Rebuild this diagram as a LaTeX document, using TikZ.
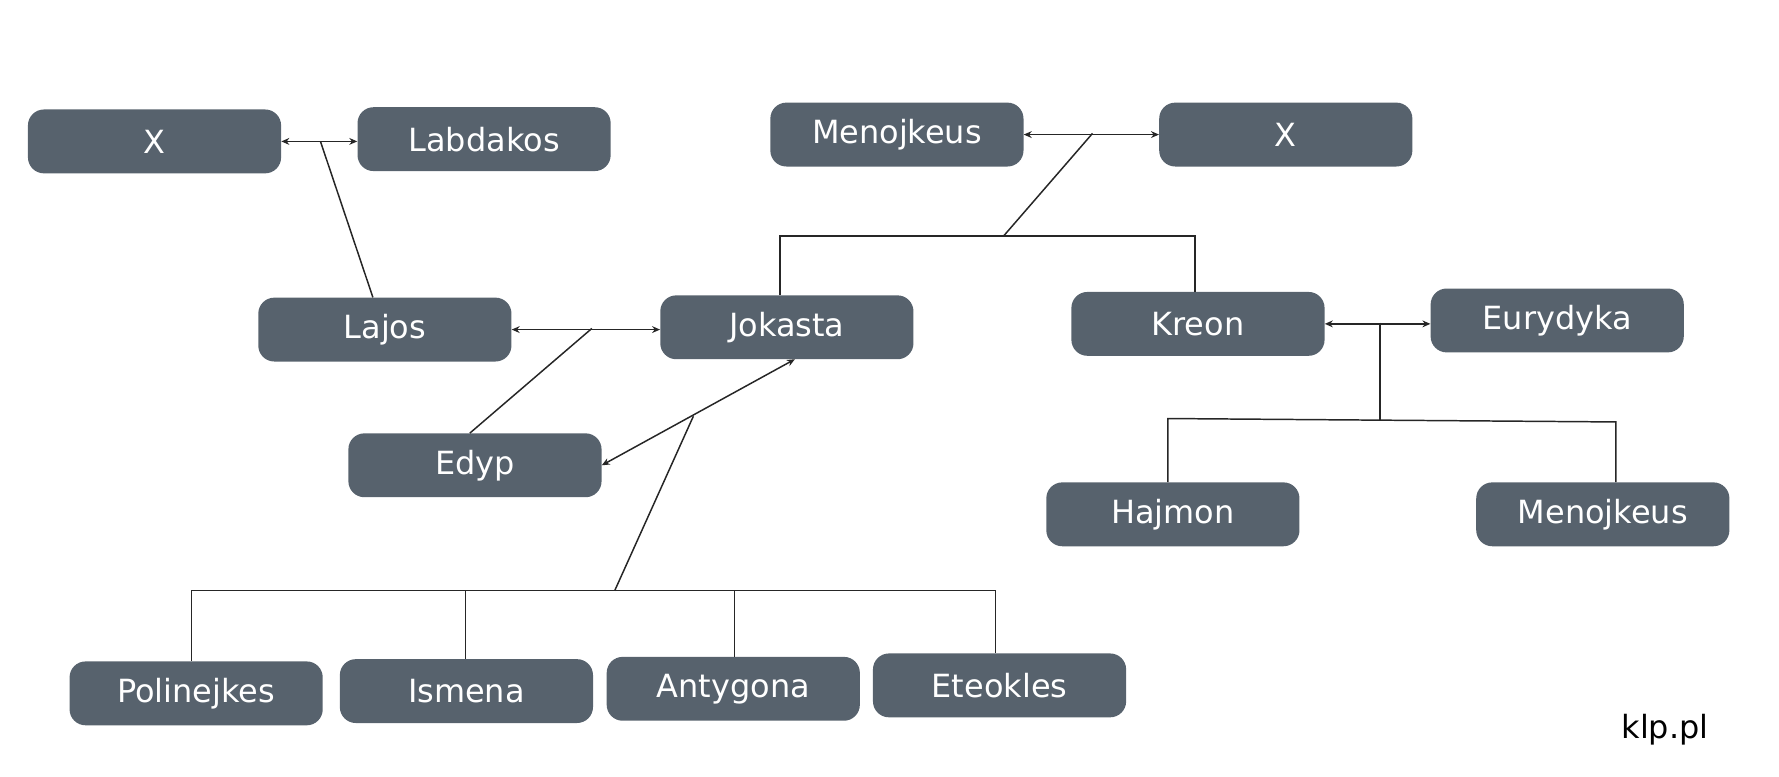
\documentclass[tikz,border=0pt]{standalone}
\usepackage{fontspec}
\setmainfont{DejaVu Sans}
\usetikzlibrary{arrows.meta}
\definecolor{boxc}{HTML}{57626D}
\begin{document}
\begin{tikzpicture}[x=1pt,y=-1pt,
  person/.style={rectangle,rounded corners=14pt,fill=boxc,text=white,minimum width=222pt,minimum height=56pt,font=\fontsize{28}{32}\selectfont,inner sep=0pt},
  ln/.style={draw=black!85,line width=1.3pt},
  arr/.style={ln,Stealth-Stealth,>={Stealth[length=7pt,width=6pt]}}]
\useasboundingbox (0,0) rectangle (1560,681);
\node[person] (x1) at (135.5,124) {X};
\node[person] (lab) at (424.5,122) {Labdakos};
\node[person] (men1) at (786.5,118) {Menojkeus};
\node[person] (x2) at (1127.5,118) {X};
\node[person] (laj) at (337.5,289) {Lajos};
\node[person] (jok) at (690,287) {Jokasta};
\node[person] (kre) at (1050.5,284) {Kreon};
\node[person] (eur) at (1365.5,281) {Eurydyka};
\node[person] (edy) at (416.5,408) {Edyp};
\node[person] (haj) at (1028.5,451) {Hajmon};
\node[person] (men2) at (1405.5,451) {Menojkeus};
\node[person] (pol) at (172,608) {Polinejkes};
\node[person] (ism) at (409,606) {Ismena};
\node[person] (ant) at (643,604) {Antygona};
\node[person] (ete) at (876.5,601) {Eteokles};
\node[font=\fontsize{28}{32}\selectfont] (klp) at (1460,640) {klp.pl};
% couples
\draw[arr,{Stealth[length=7pt,width=6pt]}-{Stealth[length=7pt,width=6pt]}] (x1.east) -- (lab.west|-x1.east);
\draw[arr,{Stealth[length=7pt,width=6pt]}-{Stealth[length=7pt,width=6pt]}] (men1.east) -- (x2.west|-men1.east);
\draw[arr,{Stealth[length=7pt,width=6pt]}-{Stealth[length=7pt,width=6pt]}] (laj.east) -- (jok.west|-laj.east);
\draw[arr,{Stealth[length=7pt,width=6pt]}-{Stealth[length=7pt,width=6pt]}] (kre.east) -- (eur.west|-kre.east);
\draw[arr,{Stealth[length=7pt,width=6pt]}-{Stealth[length=7pt,width=6pt]}] (edy.east) -- (697,315);
% descent
\coordinate (c1) at (281,124);
\draw[ln] (c1) -- (laj.north -| 327,0);
\coordinate (c2) at (958,117);
\coordinate (c2b) at (880,207);
\draw[ln] (c2) -- (c2b);
\draw[ln] (jok.north -| 684,0) -- (684,207) -- (1048,207) -- (kre.north -| 1048,0);
\coordinate (c3) at (519,288);
\draw[ln] (c3) -- (edy.north -| 412,0);
\coordinate (c4) at (608,365);
\draw[ln] (c4) -- (539,518);
\draw[ln] (pol.north -| 168,0) -- (168,518) -- (873,518) -- (ete.north -| 873,0);
\draw[ln] (408,518) -- (ism.north -| 408,0);
\draw[ln] (644,518) -- (ant.north -| 644,0);
\coordinate (c5) at (1210,283);
\draw[ln] (c5) -- (1210,368);
\draw[ln] (haj.north -| 1024,0) -- (1024,367) -- (1417,370) -- (men2.north -| 1417,0);
\end{tikzpicture}
\end{document}
